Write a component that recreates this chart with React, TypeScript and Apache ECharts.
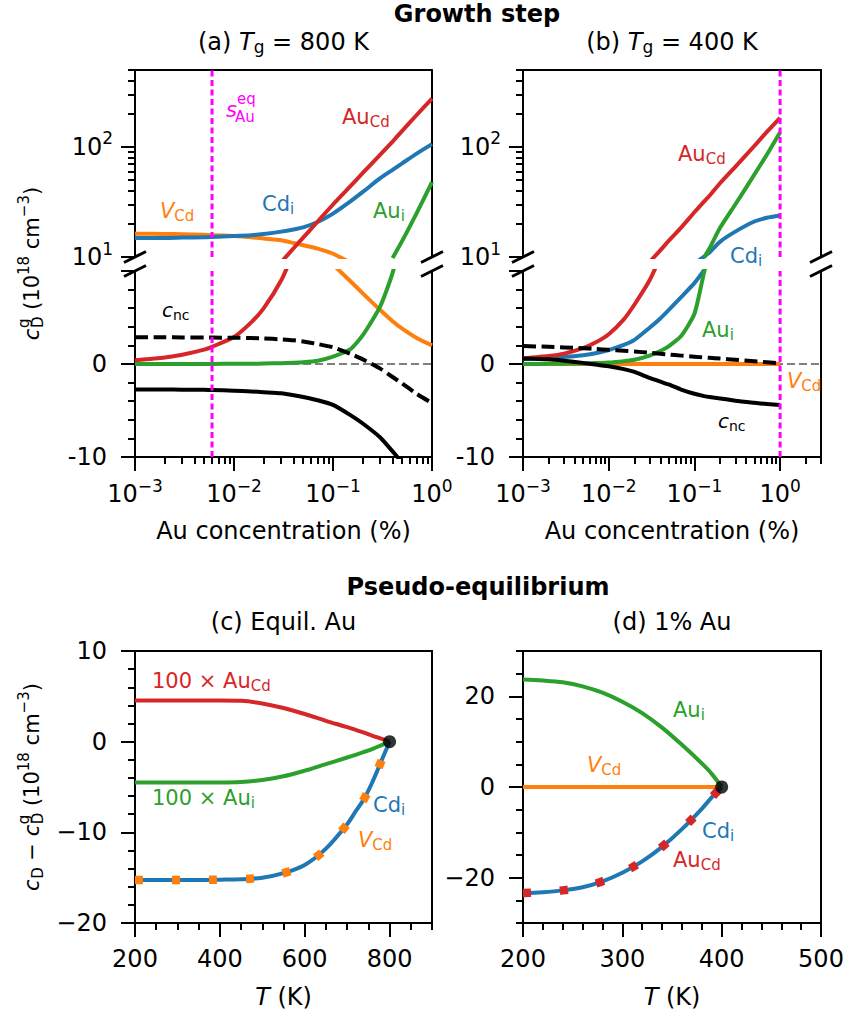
import React, { useEffect, useRef } from 'react';
import * as echarts from 'echarts';

// ===== Panel (a): growth step, Tg = 800 K (x = Au concentration, %) =====
const xA = [0.001, 0.002, 0.003, 0.005, 0.006, 0.01, 0.015, 0.02, 0.03, 0.04, 0.05, 0.07, 0.1, 0.15, 0.2, 0.3, 0.4, 0.5, 0.7, 1.0];
const aAuCd = [0.4, 0.7, 1.0, 1.55, 1.85, 2.9, 4.5, 6.0, 9.0, 12, 15, 21, 30, 44, 58, 85, 112, 140, 195, 275];
const aCdi = [14.9, 14.9, 15.0, 15.1, 15.2, 15.5, 15.8, 16.2, 17.0, 17.8, 18.6, 20.8, 24.8, 32, 39, 52, 62, 71, 87, 106];
const aVCd = [16.3, 16.2, 16.1, 15.9, 15.8, 15.5, 15.1, 14.7, 14.2, 13.4, 12.8, 11.9, 10.7, 8.9, 7.6, 5.8, 4.6, 3.8, 2.8, 2.0];
const aAui = [0, 0, 0, 0.01, 0.01, 0.02, 0.03, 0.05, 0.09, 0.13, 0.18, 0.35, 0.8, 1.6, 3.1, 6.2, 9.8, 14, 25, 48];
const aCncDashed = [2.87, 2.87, 2.86, 2.85, 2.84, 2.82, 2.79, 2.75, 2.65, 2.55, 2.42, 2.15, 1.8, 1.1, 0.5, -0.5, -1.4, -2.1, -3.2, -4.2];
const aCncSolid = [-2.75, -2.75, -2.76, -2.78, -2.8, -2.87, -2.95, -3.03, -3.15, -3.35, -3.55, -3.9, -4.4, -5.5, -6.4, -7.9, -9.4, -10.6, -12.8, -15.5];

// ===== Panel (b): growth step, Tg = 400 K =====
const xB = [0.001, 0.002, 0.003, 0.005, 0.007, 0.01, 0.015, 0.02, 0.03, 0.04, 0.05, 0.07, 0.1, 0.13, 0.15, 0.2, 0.3, 0.5, 0.7, 1.0];
const bAuCd = [0.6, 0.85, 1.1, 1.7, 2.3, 3.2, 4.8, 6.4, 9.0, 11.5, 14, 18.5, 25.5, 32, 36, 47, 66, 102, 137, 184];
const bCdi = [0.55, 0.65, 0.75, 0.95, 1.15, 1.5, 2.05, 2.6, 3.9, 4.9, 5.8, 7.2, 8.7, 10.1, 11, 13.8, 17, 21, 22.7, 23.8];
const bAui = [0, 0.02, 0.03, 0.06, 0.1, 0.15, 0.3, 0.45, 0.9, 1.4, 1.9, 3.0, 5.4, 9.9, 12, 18.5, 30, 56, 85, 136];
const bVCd = [0, 0, 0, 0, 0, 0, 0, 0, 0, 0, 0, 0, 0, 0, 0, 0, 0, 0, 0, 0];
const bCncDashed = [1.93, 1.85, 1.78, 1.7, 1.62, 1.52, 1.42, 1.35, 1.2, 1.1, 1.02, 0.9, 0.78, 0.7, 0.66, 0.58, 0.45, 0.3, 0.18, 0.07];
const bCncSolid = [0.6, 0.5, 0.35, 0.12, -0.05, -0.25, -0.55, -0.85, -1.5, -1.9, -2.2, -2.75, -3.2, -3.45, -3.55, -3.7, -3.95, -4.17, -4.3, -4.4];

// ===== Panel (c): pseudo-equilibrium, equilibrium Au (x = T, K) =====
const tC = [200, 250, 300, 350, 400, 450, 500, 550, 600, 650, 700, 720, 740, 760, 780, 800];
const cAuCd100 = [4.55, 4.55, 4.55, 4.55, 4.55, 4.5, 4.22, 3.72, 3.05, 2.3, 1.6, 1.3, 1.0, 0.65, 0.33, 0];
const cAui100 = [-4.5, -4.5, -4.5, -4.5, -4.5, -4.45, -4.22, -3.82, -3.2, -2.47, -1.75, -1.45, -1.13, -0.79, -0.4, 0];
const cCdi = [-15.25, -15.25, -15.25, -15.25, -15.22, -15.18, -15.0, -14.5, -13.6, -11.8, -9.1, -7.7, -6.3, -4.4, -2.2, 0];
const cVCd = [-15.25, -15.25, -15.25, -15.25, -15.22, -15.18, -15.0, -14.5, -13.6, -11.8, -9.1, -7.7, -6.3, -4.4, -2.2, 0];

// ===== Panel (d): pseudo-equilibrium, 1% Au =====
const tD = [200, 220, 240, 260, 280, 300, 320, 340, 360, 380, 390, 400];
const dAui = [23.7, 23.5, 23.1, 22.2, 20.8, 18.8, 16.3, 13.1, 9.3, 5.2, 2.9, 0];
const dCdi = [-23.4, -23.2, -22.8, -22.1, -20.8, -18.9, -16.4, -13.2, -9.3, -4.8, -2.3, 0];
const dAuCd = [-23.4, -23.2, -22.8, -22.1, -20.8, -18.9, -16.4, -13.2, -9.3, -4.8, -2.3, 0];
const dVCd = [0, 0, 0, 0, 0, 0, 0, 0, 0, 0, 0, 0];

// ===== reference values / axis limits =====
const X_MIN = 0.001;
const X_MAX_A = 1;
const X_MAX_B = 3;
const Y_LOG_MIN = 10;
const Y_LOG_MAX = 500;
const Y_LIN_MIN = -10;
const Y_LIN_MAX = 10;
const S_EQ_A = 0.006; // s_Au^eq at Tg = 800 K
const S_B = 1; // 1 % Au
const TG_C = 800;
const TG_D = 400;
const xDecadeTicks = [-3, -2, -1, 0];
const yDecadeTicks = [1, 2];
const tTicksC = [200, 400, 600, 800];
const yTicksD = [-20, 0, 20];

// ===== styling =====
const W = 847, H = 1014;
const F = 'DejaVu Sans';
const BLACK = '#000000';
const BLUE = '#1f77b4', ORANGE = '#ff7f0e', GREEN = '#2ca02c', RED = '#d62728';
const MAGENTA = '#ff00ff', GRAY = '#808080';
const AXW = 2;
const LW = 4;

// layout (px)
const L1 = 135, R1 = 432, L2 = 523, R2 = 821;
const TOP_U = 70, BRK_U = 257, BRK_L = 271, BOT_L = 457;
const TOP_C = 651, BOT_C = 923;

const minorLog = (lo: number, hi: number) => {
  const out: number[] = [];
  for (let e = Math.floor(lo); e <= Math.ceil(hi); e++) {
    for (let m = 2; m <= 9; m++) {
      const v = e + Math.log10(m);
      if (v >= lo - 1e-9 && v <= hi + 1e-9) out.push(v);
    }
  }
  return out;
};

const supExp = (v: number) => {
  const r = Math.round(v);
  return r < 0 ? '\u2212' + Math.abs(r) : String(r);
};
const powRich = {
  sup: { fontSize: 17, fontFamily: F, color: BLACK, height: 17, lineHeight: 17, verticalAlign: 'top' },
};

function spine(gridIndex: number, type: string, min: number, max: number, position: string): any {
  return {
    gridIndex, type, min, max, position, logBase: 10,
    axisLine: { show: true, onZero: false, lineStyle: { color: BLACK, width: AXW } },
    axisTick: { show: false }, axisLabel: { show: false }, splitLine: { show: false },
    minorTick: { show: false }, minorSplitLine: { show: false },
  };
}

function tickAxis(gridIndex: number, min: number, max: number, position: string, values: number[], length: number, label?: any, extra?: any): any {
  return {
    gridIndex, type: 'value', min, max, position, interval: 1,
    axisLine: { show: false, onZero: false },
    axisTick: { show: true, customValues: values, length, lineStyle: { color: BLACK, width: AXW } },
    axisLabel: label
      ? { show: true, customValues: values, color: BLACK, fontFamily: F, fontSize: 24, ...label }
      : { show: false },
    splitLine: { show: false },
    ...(extra || {}),
  };
}

const xNameStyle = {
  nameLocation: 'middle', nameGap: 62,
  nameTextStyle: {
    fontSize: 24, fontFamily: F, color: BLACK, lineHeight: 24,
    rich: { i: { fontSize: 24, fontFamily: F, color: BLACK, fontStyle: 'italic', lineHeight: 24 } },
  },
};

function linAxis(gridIndex: number, min: number, max: number, interval: number, position: string, minorSplit: number, formatter: any, extra?: any): any {
  return {
    gridIndex, type: 'value', min, max, interval, position,
    axisLine: { show: true, onZero: false, lineStyle: { color: BLACK, width: AXW } },
    axisTick: { show: true, length: 14, lineStyle: { color: BLACK, width: AXW } },
    minorTick: minorSplit ? { show: true, splitNumber: minorSplit, length: 7, lineStyle: { color: BLACK, width: AXW } } : { show: false },
    axisLabel: { show: true, color: BLACK, fontFamily: F, fontSize: 24, lineHeight: 24, margin: position === 'bottom' ? 24 : 28, formatter },
    splitLine: { show: false }, minorSplitLine: { show: false },
    ...(extra || {}),
  };
}

type Pt = [number, number];
function pts(xs: number[], ys: number[], lo = -Infinity, hi = Infinity, positive = false): Pt[] {
  const inR = (v: number) => v >= lo && v <= hi;
  const out: Pt[] = [];
  for (let i = 0; i < xs.length; i++) {
    const keep = inR(ys[i]) || (i > 0 && inR(ys[i - 1])) || (i < xs.length - 1 && inR(ys[i + 1]));
    if (keep && (!positive || ys[i] > 0)) out.push([xs[i], ys[i]]);
  }
  return out;
}

const SM = 0.2;
function ln(name: string, data: Pt[], color: string, xi: number, yi: number, z: number, style?: any, smooth: any = SM): any {
  return {
    type: 'line', name, data, xAxisIndex: xi, yAxisIndex: yi, z,
    symbol: 'none', showSymbol: false, silent: true, smooth, clip: true,
    lineStyle: { color, width: LW, cap: 'butt', join: 'round', ...(style || {}) },
  };
}

function mkRich(color: string, size: number) {
  const sub = Math.round(size * 0.71);
  return {
    n: { fill: color, fontSize: size, fontFamily: F, lineHeight: size + 3 },
    i: { fill: color, fontSize: size, fontFamily: F, fontStyle: 'italic', lineHeight: size + 3 },
    s: { fill: color, fontSize: sub, fontFamily: F, height: sub, lineHeight: sub, verticalAlign: 'bottom' },
  };
}

function lab(x: number, y: number, text: string, color: string, size = 21, align = 'left', bold = false): any {
  return {
    type: 'text', x, y, z: 100, silent: true,
    style: {
      text, fill: color, fontSize: size, fontFamily: F, fontWeight: bold ? 'bold' : 'normal',
      lineHeight: size + 3, align, verticalAlign: 'middle', textAlign: align, textVerticalAlign: 'middle',
      rich: mkRich(color, size),
    },
  };
}

function slash(x: number, y: number): any {
  return {
    type: 'line', z: 100, silent: true,
    shape: { x1: x - 11, y1: y + 5.5, x2: x + 11, y2: y - 5.5 },
    style: { stroke: BLACK, lineWidth: 3 },
  };
}

let measureCtx: CanvasRenderingContext2D | null = null;
function tw(text: string, size: number, italic = false) {
  if (!measureCtx) measureCtx = document.createElement('canvas').getContext('2d');
  measureCtx!.font = `${italic ? 'italic ' : ''}${size}px "${F}"`;
  return measureCtx!.measureText(text).width;
}

type Part = { t?: string; it?: boolean; sup?: string; sub?: string; kind: 'main' | 'sup' | 'sub' | 'stack' };
function yLabel(cx: number, cy: number, parts: Part[]): any {
  const MS = 21, SS = 15;
  const children: any[] = [];
  let x = 0;
  const mk = (t: string, px: number, py: number, size: number, it = false) => ({
    type: 'text', x: px, y: py, silent: true,
    style: { text: t, fill: BLACK, fontSize: size, fontFamily: F, fontStyle: it ? 'italic' : 'normal',
      align: 'left', verticalAlign: 'middle', textAlign: 'left', textVerticalAlign: 'middle' },
  });
  for (const p of parts) {
    if (p.kind === 'main') { children.push(mk(p.t!, x, 0, MS, !!p.it)); x += tw(p.t!, MS, !!p.it); }
    else if (p.kind === 'sup') { children.push(mk(p.t!, x, -8, SS)); x += tw(p.t!, SS); }
    else if (p.kind === 'sub') { children.push(mk(p.t!, x + 0.5, 6, SS)); x += tw(p.t!, SS) + 0.5; }
    else {
      children.push(mk(p.sup!, x + 0.5, -8, SS));
      children.push(mk(p.sub!, x + 0.5, 6, SS));
      x += Math.max(tw(p.sup!, SS), tw(p.sub!, SS)) + 0.5;
    }
  }
  const half = x / 2;
  children.forEach((c) => { c.x -= half; });
  return { type: 'group', x: cx, y: cy, rotation: Math.PI / 2, z: 100, children };
}

function buildOption(): any {
  const lyMinor = minorLog(1, Math.log10(Y_LOG_MAX));
  const lxMinorA = minorLog(-3, Math.log10(X_MAX_A));
  const lxMinorB = minorLog(-3, Math.log10(X_MAX_B));
  const powLabel = { formatter: (v: number) => `10{sup|${supExp(v)}}`, lineHeight: 34, rich: powRich };

  const grid = [
    { left: L1, top: TOP_U, width: R1 - L1, height: BRK_U - TOP_U },
    { left: L1, top: BRK_L, width: R1 - L1, height: BOT_L - BRK_L },
    { left: L2, top: TOP_U, width: R2 - L2, height: BRK_U - TOP_U },
    { left: L2, top: BRK_L, width: R2 - L2, height: BOT_L - BRK_L },
    { left: L1, top: TOP_C, width: R1 - L1, height: BOT_C - TOP_C, show: true, borderColor: BLACK, borderWidth: AXW },
    { left: L2, top: TOP_C, width: R2 - L2, height: BOT_C - TOP_C, show: true, borderColor: BLACK, borderWidth: AXW },
  ].map((g) => ({ containLabel: false, outerBoundsMode: 'none', ...g }));

  const xAxis = [
    spine(0, 'log', X_MIN, X_MAX_A, 'top'), // 0
    spine(1, 'log', X_MIN, X_MAX_A, 'bottom'), // 1
    tickAxis(1, -3, Math.log10(X_MAX_A), 'bottom', xDecadeTicks, 14, { ...powLabel, margin: 20 },
      { name: 'Au concentration (%)', ...xNameStyle }), // 2
    tickAxis(1, -3, Math.log10(X_MAX_A), 'bottom', lxMinorA, 7), // 3
    spine(2, 'log', X_MIN, X_MAX_B, 'top'), // 4
    spine(3, 'log', X_MIN, X_MAX_B, 'bottom'), // 5
    tickAxis(3, -3, Math.log10(X_MAX_B), 'bottom', xDecadeTicks, 14, { ...powLabel, margin: 20 },
      { name: 'Au concentration (%)', ...xNameStyle }), // 6
    tickAxis(3, -3, Math.log10(X_MAX_B), 'bottom', lxMinorB, 7), // 7
    {
      ...linAxis(4, 200, 900, 100, 'bottom', 0, (v: number) => String(v)),
      axisTick: { show: true, customValues: tTicksC, length: 14, lineStyle: { color: BLACK, width: AXW } },
      axisLabel: { show: true, customValues: tTicksC, color: BLACK, fontFamily: F, fontSize: 24, lineHeight: 24, margin: 24 },
      name: '{i|T} (K)', ...xNameStyle,
    }, // 8
    {
      gridIndex: 4, type: 'value', min: 200, max: 900, interval: 50, position: 'bottom',
      axisLine: { show: false, onZero: false },
      axisTick: { show: true, length: 7, lineStyle: { color: BLACK, width: AXW } },
      axisLabel: { show: false }, splitLine: { show: false },
    }, // 9
    { ...linAxis(5, 200, 500, 100, 'bottom', 5, (v: number) => String(v)), name: '{i|T} (K)', ...xNameStyle }, // 10
  ];

  const linFmt = (v: number) => (v === 10 ? '' : v < 0 ? '-' + Math.abs(v) : String(v));
  const minusFmt = (v: number) => (v < 0 ? '\u2212' + Math.abs(v) : String(v));

  const yAxis = [
    spine(0, 'log', Y_LOG_MIN, Y_LOG_MAX, 'left'), // 0
    spine(0, 'log', Y_LOG_MIN, Y_LOG_MAX, 'right'), // 1
    tickAxis(0, 1, Math.log10(Y_LOG_MAX), 'left', yDecadeTicks, 14, { ...powLabel, margin: 22 }), // 2
    tickAxis(0, 1, Math.log10(Y_LOG_MAX), 'left', lyMinor, 7), // 3
    linAxis(1, Y_LIN_MIN, Y_LIN_MAX, 10, 'left', 5, linFmt), // 4
    spine(1, 'value', Y_LIN_MIN, Y_LIN_MAX, 'right'), // 5
    spine(2, 'log', Y_LOG_MIN, Y_LOG_MAX, 'left'), // 6
    spine(2, 'log', Y_LOG_MIN, Y_LOG_MAX, 'right'), // 7
    tickAxis(2, 1, Math.log10(Y_LOG_MAX), 'left', yDecadeTicks, 14, { ...powLabel, margin: 22 }), // 8
    tickAxis(2, 1, Math.log10(Y_LOG_MAX), 'left', lyMinor, 7), // 9
    linAxis(3, Y_LIN_MIN, Y_LIN_MAX, 10, 'left', 5, linFmt), // 10
    spine(3, 'value', Y_LIN_MIN, Y_LIN_MAX, 'right'), // 11
    linAxis(4, -20, 10, 10, 'left', 5, minusFmt), // 12
    {
      ...linAxis(5, -30, 30, 10, 'left', 0, minusFmt),
      axisTick: { show: true, customValues: yTicksD, length: 14, lineStyle: { color: BLACK, width: AXW } },
      axisLabel: { show: true, customValues: yTicksD, color: BLACK, fontFamily: F, fontSize: 24, lineHeight: 24, margin: 28, formatter: minusFmt },
    }, // 13
    {
      gridIndex: 5, type: 'value', min: -30, max: 30, interval: 5, position: 'left',
      axisLine: { show: false, onZero: false },
      axisTick: { show: true, length: 7, lineStyle: { color: BLACK, width: AXW } },
      axisLabel: { show: false }, splitLine: { show: false },
    }, // 14
  ];

  const dashBlack = { type: [13, 5.5] };
  const magStyle = { type: [6, 3.5], width: 3 };
  const sq = { type: [8, 29], width: 8.5 };
  const UP = [Y_LOG_MIN, Infinity];
  const LO = [Y_LIN_MIN, Y_LIN_MAX];

  const series: any[] = [
    // ---- (a) upper (log) ----
    ln('V_Cd', pts(xA, aVCd, UP[0], UP[1], true), ORANGE, 0, 0, 3),
    ln('Cd_i', pts(xA, aCdi, UP[0], UP[1], true), BLUE, 0, 0, 4),
    ln('Au_i', pts(xA, aAui, UP[0], UP[1], true), GREEN, 0, 0, 5),
    ln('Au_Cd', pts(xA, aAuCd, UP[0], UP[1], true), RED, 0, 0, 6),
    ln('s_eq', [[S_EQ_A, Y_LOG_MIN], [S_EQ_A, Y_LOG_MAX]], MAGENTA, 0, 0, 9, magStyle, false),
    // ---- (a) lower (linear) ----
    ln('zero', [[X_MIN, 0], [X_MAX_A, 0]], GRAY, 1, 4, 2, { width: 2, type: [8, 4] }, false),
    ln('V_Cd', pts(xA, aVCd, LO[0], LO[1]), ORANGE, 1, 4, 3),
    ln('Cd_i', pts(xA, aCdi, LO[0], LO[1]), BLUE, 1, 4, 4),
    ln('Au_i', pts(xA, aAui, LO[0], LO[1]), GREEN, 1, 4, 5),
    ln('Au_Cd', pts(xA, aAuCd, LO[0], LO[1]), RED, 1, 4, 6),
    ln('c_nc dashed', pts(xA, aCncDashed, LO[0], LO[1]), BLACK, 1, 4, 7, dashBlack),
    ln('c_nc', pts(xA, aCncSolid, LO[0], LO[1]), BLACK, 1, 4, 8),
    ln('s_eq', [[S_EQ_A, Y_LIN_MIN], [S_EQ_A, Y_LIN_MAX]], MAGENTA, 1, 4, 9, magStyle, false),
    // ---- (b) upper ----
    ln('Cd_i', pts(xB, bCdi, UP[0], UP[1], true), BLUE, 4, 6, 4),
    ln('Au_i', pts(xB, bAui, UP[0], UP[1], true), GREEN, 4, 6, 5),
    ln('Au_Cd', pts(xB, bAuCd, UP[0], UP[1], true), RED, 4, 6, 6),
    ln('1% Au', [[S_B, Y_LOG_MIN], [S_B, Y_LOG_MAX]], MAGENTA, 4, 6, 9, magStyle, false),
    // ---- (b) lower ----
    ln('zero', [[X_MIN, 0], [X_MAX_B, 0]], GRAY, 5, 10, 2, { width: 2, type: [8, 4] }, false),
    ln('V_Cd', pts(xB, bVCd, LO[0], LO[1]), ORANGE, 5, 10, 3, undefined, false),
    ln('Cd_i', pts(xB, bCdi, LO[0], LO[1]), BLUE, 5, 10, 4),
    ln('Au_i', pts(xB, bAui, LO[0], LO[1]), GREEN, 5, 10, 5),
    ln('Au_Cd', pts(xB, bAuCd, LO[0], LO[1]), RED, 5, 10, 6),
    ln('c_nc dashed', pts(xB, bCncDashed, LO[0], LO[1]), BLACK, 5, 10, 7, dashBlack),
    ln('c_nc', pts(xB, bCncSolid, LO[0], LO[1]), BLACK, 5, 10, 8),
    ln('1% Au', [[S_B, Y_LIN_MIN], [S_B, Y_LIN_MAX]], MAGENTA, 5, 10, 9, magStyle, false),
    // ---- (c) ----
    ln('100 x Au_Cd', pts(tC, cAuCd100), RED, 8, 12, 4, undefined, 0.35),
    ln('100 x Au_i', pts(tC, cAui100), GREEN, 8, 12, 4, undefined, 0.35),
    ln('Cd_i', pts(tC, cCdi), BLUE, 8, 12, 5, undefined, 0.35),
    ln('V_Cd', pts(tC, cVCd), ORANGE, 8, 12, 6, sq, 0.35),
    {
      type: 'scatter', data: [[TG_C, 0]], xAxisIndex: 8, yAxisIndex: 12, z: 10, silent: true,
      symbol: 'circle', symbolSize: 13, itemStyle: { color: BLACK },
    },
    // ---- (d) ----
    ln('V_Cd', pts(tD, dVCd), ORANGE, 10, 13, 3, undefined, false),
    ln('Au_i', pts(tD, dAui), GREEN, 10, 13, 4, undefined, 0.35),
    ln('Cd_i', pts(tD, dCdi), BLUE, 10, 13, 5, undefined, 0.35),
    ln('Au_Cd', pts(tD, dAuCd), RED, 10, 13, 6, sq, 0.35),
    {
      type: 'scatter', data: [[TG_D, 0]], xAxisIndex: 10, yAxisIndex: 13, z: 10, silent: true,
      symbol: 'circle', symbolSize: 13, itemStyle: { color: BLACK },
    },
  ];

  const graphic: any[] = [
    // titles
    lab(477, 14, 'Growth step', BLACK, 24, 'center', true),
    lab((L1 + R1) / 2, 42, '(a) {i|T}{s|g} = 800 K', BLACK, 24, 'center'),
    lab((L2 + R2) / 2, 42, '(b) {i|T}{s|g} = 400 K', BLACK, 24, 'center'),
    lab(478, 587, 'Pseudo-equilibrium', BLACK, 24, 'center', true),
    lab((L1 + R1) / 2, 622, '(c) Equil. Au', BLACK, 24, 'center'),
    lab((L2 + R2) / 2, 622, '(d) 1% Au', BLACK, 24, 'center'),
    // y-axis titles
    yLabel(32, (TOP_U + BOT_L) / 2, [
      { kind: 'main', t: 'c', it: true }, { kind: 'stack', sup: 'g', sub: 'D' },
      { kind: 'main', t: ' (10' }, { kind: 'sup', t: '18' }, { kind: 'main', t: ' cm' },
      { kind: 'sup', t: '\u22123' }, { kind: 'main', t: ')' },
    ]),
    yLabel(32, (TOP_C + BOT_C) / 2, [
      { kind: 'main', t: 'c', it: true }, { kind: 'sub', t: 'D' }, { kind: 'main', t: ' \u2212 ' },
      { kind: 'main', t: 'c', it: true }, { kind: 'stack', sup: 'g', sub: 'D' },
      { kind: 'main', t: ' (10' }, { kind: 'sup', t: '18' }, { kind: 'main', t: ' cm' },
      { kind: 'sup', t: '\u22123' }, { kind: 'main', t: ')' },
    ]),
    // (a) labels
    lab(226, 110, '{i|s}', MAGENTA),
    lab(237, 99, 'eq', MAGENTA, 15),
    lab(235, 117, 'Au', MAGENTA, 15),
    lab(342, 117, '{n|Au}{s|Cd}', RED),
    lab(160, 211, '{i|V}{s|Cd}', ORANGE),
    lab(262, 204, '{n|Cd}{s|i}', BLUE),
    lab(373, 211, '{n|Au}{s|i}', GREEN),
    lab(162, 310, '{i|c}{s|nc}', BLACK, 20),
    // (b) labels
    lab(678, 154, '{n|Au}{s|Cd}', RED),
    lab(730, 256, '{n|Cd}{s|i}', BLUE),
    lab(702, 330, '{n|Au}{s|i}', GREEN),
    lab(787, 381, '{i|V}{s|Cd}', ORANGE),
    lab(718, 421, '{i|c}{s|nc}', BLACK, 20),
    // (c) labels
    lab(152, 681, '100 \u00d7 {n|Au}{s|Cd}', RED),
    lab(152, 798, '100 \u00d7 {n|Au}{s|i}', GREEN),
    lab(373, 805, '{n|Cd}{s|i}', BLUE),
    lab(358, 840, '{i|V}{s|Cd}', ORANGE),
    // (d) labels
    lab(673, 710, '{n|Au}{s|i}', GREEN),
    lab(587, 765, '{i|V}{s|Cd}', ORANGE),
    lab(702, 831, '{n|Cd}{s|i}', BLUE),
    lab(673, 860, '{n|Au}{s|Cd}', RED),
    // axis-break marks
    slash(L1, BRK_U), slash(L1, BRK_L), slash(R1, BRK_U), slash(R1, BRK_L),
    slash(L2, BRK_U), slash(L2, BRK_L), slash(R2, BRK_U), slash(R2, BRK_L),
  ];

  return {
    animation: false,
    backgroundColor: '#ffffff',
    textStyle: { fontFamily: F },
    grid, xAxis, yAxis, series, graphic,
  };
}

export default function App() {
  const ref = useRef<HTMLDivElement>(null);
  useEffect(() => {
    document.body.style.margin = '0';
    document.body.style.overflow = 'hidden';
    const chart = echarts.init(ref.current!, null, { renderer: 'svg', width: W, height: H });
    chart.setOption(buildOption());
    return () => chart.dispose();
  }, []);
  return <div ref={ref} style={{ width: W, height: H }} />;
}
